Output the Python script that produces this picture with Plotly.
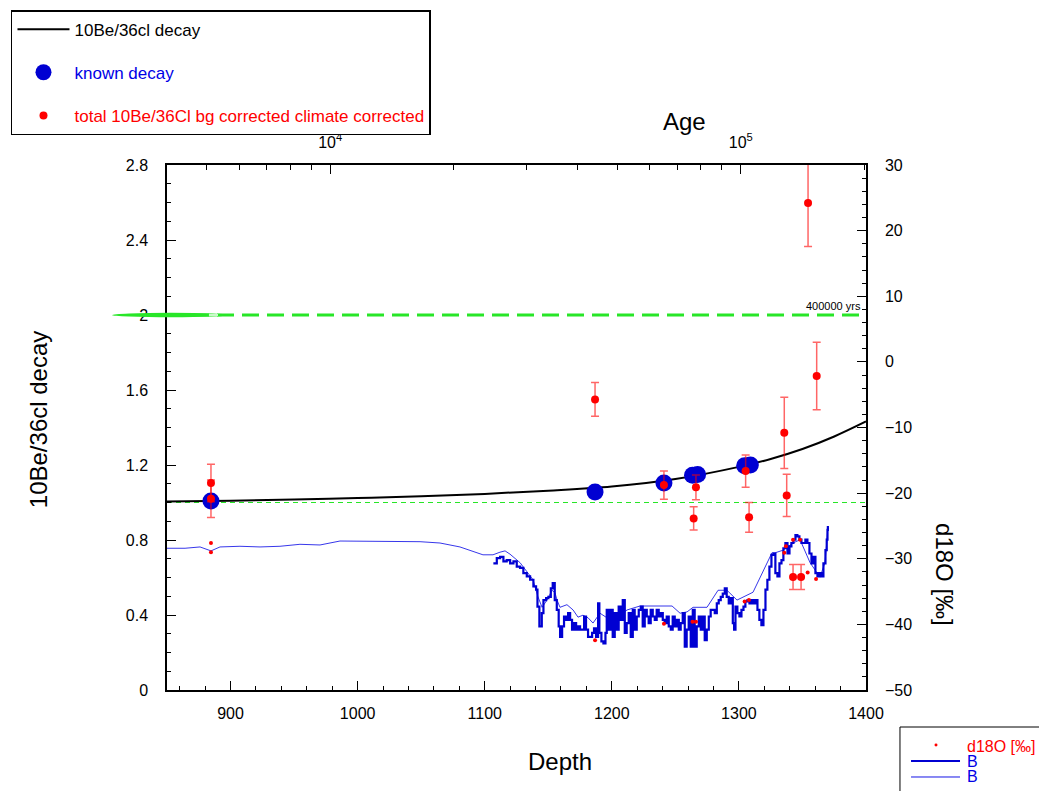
import plotly.graph_objects as go

# ---------------- data ----------------
# 10Be/36Cl decay curve (depth, ratio)
curve_depth = [850, 900, 950, 1000, 1050, 1100, 1150, 1200, 1250, 1300, 1325, 1350, 1375, 1400]
curve_ratio = [1.006, 1.010, 1.016, 1.024, 1.033, 1.046, 1.063, 1.085, 1.125, 1.190, 1.232, 1.285, 1.352, 1.432]

# known decay (big blue dots)
known_depth = [884.6, 1186.8, 1241.0, 1263.5, 1267.5, 1304.5, 1309.0]
known_ratio = [1.008, 1.056, 1.104, 1.145, 1.149, 1.196, 1.200]

# total 10Be/36Cl bg corrected climate corrected (red points with errors)
tot_depth = [884.6, 884.6, 1186.8, 1241.0, 1266.2, 1264.4, 1305.3, 1308.0, 1335.7, 1337.6,
             1342.6, 1348.9, 1354.4, 1361.2]
tot_ratio = [1.104, 1.020, 1.550, 1.093, 1.081, 0.915, 1.168, 0.921, 1.372, 1.038,
             0.603, 0.603, 2.597, 1.675]
tot_err = [0.10, 0.10, 0.09, 0.075, 0.066, 0.062, 0.086, 0.079, 0.19, 0.113,
           0.067, 0.067, 0.232, 0.18]

# reference levels (green)
level_400k = 2.0
level_now = 1.0
x_span = [850, 1400]

# d18O sample points (right axis)
d18o_depth = [884.6, 884.6, 1186.8, 1241.0, 1263.5, 1266.2, 1304.5, 1307.9, 1335.7, 1337.0,
              1342.6, 1348.1, 1354.1, 1360.7]
d18o_val = [-27.6, -29.0, -42.4, -39.9, -39.6, -39.6, -36.5, -36.3, -29.1, -28.1,
            -27.1, -27.1, -32.1, -33.1]

# B (thick, high resolution) d18O record
b1_depth = [1106.8, 1109.5, 1112.1, 1114.7, 1117.3, 1120.0, 1122.6, 1125.2, 1127.8, 1130.4,
            1133.1, 1135.7, 1138.3, 1140.4, 1141.5, 1143.0, 1144.9, 1146.2, 1148.3, 1150.1,
            1152.0, 1153.5, 1155.1, 1156.7, 1158.2, 1159.3, 1160.9, 1162.4, 1164.0, 1165.6,
            1167.2, 1168.7, 1170.3, 1171.9, 1173.5, 1175.0, 1176.6, 1178.2, 1179.7, 1181.3,
            1182.9, 1184.5, 1186.0, 1187.6, 1189.2, 1190.2, 1191.8, 1193.4, 1195.0, 1196.0,
            1197.6, 1199.2, 1200.7, 1202.3, 1203.9, 1205.4, 1207.0, 1208.6, 1210.2, 1211.7,
            1213.3, 1214.9, 1216.5, 1218.0, 1219.6, 1221.2, 1222.8, 1224.3, 1225.9, 1227.5,
            1229.0, 1230.6, 1232.2, 1233.8, 1235.3, 1236.9, 1238.5, 1240.1, 1241.6, 1243.2,
            1244.8, 1246.4, 1247.9, 1249.5, 1251.1, 1252.7, 1254.2, 1255.8, 1257.4, 1258.9,
            1260.5, 1262.1, 1263.7, 1265.2, 1266.8, 1268.4, 1270.0, 1271.5, 1273.1, 1274.7,
            1276.3, 1277.8, 1279.4, 1281.0, 1282.6, 1284.1, 1285.7, 1287.3, 1288.9, 1290.4,
            1292.0, 1293.6, 1295.2, 1296.2, 1297.3, 1298.8, 1300.4, 1302.0, 1303.6, 1305.1,
            1306.7, 1308.3, 1309.8, 1311.4, 1313.0, 1314.6, 1316.1, 1317.7, 1319.3, 1320.9,
            1322.4, 1324.0, 1325.6, 1327.2, 1328.7, 1330.3, 1331.9, 1333.5, 1335.0, 1336.6,
            1338.2, 1339.8, 1341.3, 1342.9, 1344.5, 1346.0, 1347.6, 1349.2, 1350.8, 1352.3,
            1353.9, 1355.5, 1357.1, 1358.6, 1360.2, 1361.8, 1363.4, 1364.9, 1366.5, 1368.1,
            1369.1, 1369.7, 1370.0]
b1_val = [-30.7, -29.9, -29.7, -30.4, -30.2, -30.7, -30.4, -31.2, -31.4, -32.2,
          -32.7, -33.2, -34.2, -34.7, -37.3, -40.3, -38.3, -36.3, -36.0, -35.8,
          -34.5, -33.7, -36.3, -37.8, -40.3, -41.9, -40.3, -38.8, -39.3, -38.3,
          -39.3, -40.8, -39.8, -40.8, -40.3, -40.8, -40.8, -38.8, -40.8, -41.9,
          -41.9, -41.3, -40.6, -41.9, -36.8, -41.3, -42.6, -42.9, -41.3, -37.8,
          -40.8, -37.8, -41.9, -38.3, -40.8, -37.3, -39.3, -36.3, -41.3, -39.8,
          -38.3, -41.9, -37.8, -40.8, -38.8, -37.8, -37.3, -40.3, -37.8, -38.8,
          -39.8, -37.8, -38.8, -39.3, -37.8, -38.8, -38.3, -39.3, -39.8, -38.8,
          -40.3, -40.8, -38.8, -40.3, -39.3, -40.8, -39.8, -38.3, -43.4, -40.8,
          -38.8, -43.4, -37.8, -43.4, -40.3, -38.8, -40.8, -38.8, -42.4, -40.8,
          -38.8, -37.8, -37.8, -38.3, -36.8, -36.3, -35.8, -35.3, -34.5, -35.8,
          -36.8, -36.0, -39.8, -40.8, -37.3, -38.3, -38.8, -37.8, -37.3, -36.5,
          -36.3, -36.8, -36.3, -36.8, -36.3, -37.8, -39.3, -40.1, -37.8, -34.7,
          -33.2, -31.2, -29.4, -29.2, -32.2, -32.7, -30.7, -30.2, -28.4, -27.6,
          -29.2, -28.1, -27.6, -27.1, -26.4, -26.6, -27.1, -27.6, -27.6, -27.1,
          -27.6, -29.2, -30.7, -29.7, -32.2, -32.7, -32.2, -32.7, -30.7, -28.7,
          -27.1, -25.6, -25.0]

# B (thin, low resolution) d18O record
b2_depth = [850.0, 864.2, 876.0, 884.6, 891.7, 907.4, 923.2, 938.9, 954.6, 970.4,
            986.1, 1001.9, 1017.6, 1033.3, 1049.1, 1064.8, 1080.5, 1098.6, 1106.5, 1112.0,
            1116.0, 1119.9, 1127.8, 1133.3, 1138.0, 1141.9, 1145.1, 1149.0, 1152.9, 1155.3,
            1156.9, 1159.2, 1164.7, 1169.5, 1173.4, 1177.3, 1181.3, 1185.2, 1190.7, 1196.2,
            1200.9, 1206.4, 1212.0, 1222.2, 1237.9, 1247.4, 1253.7, 1259.2, 1263.9, 1274.9,
            1283.6, 1290.6, 1298.5, 1311.1, 1326.0, 1328.4, 1334.7, 1342.6, 1348.1, 1356.0,
            1363.8, 1367.7, 1369.3, 1370.0]
b2_val = [-28.4, -28.4, -28.2, -28.8, -28.2, -28.1, -28.2, -28.1, -27.8, -27.9,
          -27.3, -27.3, -27.4, -27.4, -27.4, -27.6, -28.2, -29.4, -29.4, -29.0,
          -28.8, -29.3, -30.6, -32.0, -33.2, -35.8, -37.4, -36.3, -34.8, -35.2,
          -36.3, -37.4, -37.0, -37.8, -38.9, -38.6, -39.0, -39.8, -38.3, -39.0,
          -38.3, -38.6, -37.8, -37.2, -37.2, -37.2, -38.3, -38.1, -37.4, -37.4,
          -34.8, -34.8, -36.3, -35.1, -29.1, -29.1, -28.7, -27.6, -27.1, -30.6,
          -32.8, -30.6, -27.1, -25.2]

# top axis (Age, log)
age_range = [4003, 201900]
age_major = [1e4, 1e5]
age_major_text = ["10<sup>4</sup>", "10<sup>5</sup>"]
age_minor = [5000, 6000, 7000, 8000, 9000, 20000, 30000, 40000, 50000, 60000,
             70000, 80000, 90000, 200000]

# ---------------- figure ----------------
FONT = "Liberation Sans, Arial, Helvetica, sans-serif"
GREEN = "rgb(40,230,40)"
BLUE = "rgb(0,0,210)"
RED = "rgb(255,0,0)"

fig = go.Figure()

# green reference levels
fig.add_trace(go.Scatter(x=x_span, y=[level_400k, level_400k], mode="lines",
                         line=dict(color=GREEN, width=3, dash="17px,8px"),
                         showlegend=False, hoverinfo="skip"))
fig.add_trace(go.Scatter(x=x_span, y=[level_now, level_now], mode="lines",
                         line=dict(color=GREEN, width=1.2, dash="5px,4px"),
                         showlegend=False, hoverinfo="skip"))

# anchor traces for the top Age axis (major and minor tick layers, no visible marks)
fig.add_trace(go.Scatter(x=age_range, y=[None, None], xaxis="x2", mode="lines",
                         showlegend=False, hoverinfo="skip"))
fig.add_trace(go.Scatter(x=age_range, y=[None, None], xaxis="x3", mode="lines",
                         showlegend=False, hoverinfo="skip"))

# d18O records (right axis)
fig.add_trace(go.Scatter(x=b2_depth, y=b2_val, mode="lines", yaxis="y2",
                         line=dict(color="rgba(20,20,230,0.85)", width=1),
                         name="B", showlegend=False))
fig.add_trace(go.Scatter(x=b1_depth, y=b1_val, mode="lines", yaxis="y2",
                         line=dict(color=BLUE, width=2.2, shape="hv"),
                         name="B", showlegend=False))
fig.add_trace(go.Scatter(x=d18o_depth, y=d18o_val, mode="markers", yaxis="y2",
                         marker=dict(color=RED, size=4),
                         name="d18O [‰]", showlegend=False))

# decay curve
fig.add_trace(go.Scatter(x=curve_depth, y=curve_ratio, mode="lines",
                         line=dict(color="black", width=2, shape="spline"),
                         name="10Be/36cl decay", legendgroup="g1", legendrank=1))
# known decay
fig.add_trace(go.Scatter(x=known_depth, y=known_ratio, mode="markers",
                         marker=dict(color=BLUE, size=17),
                         name='<span style="color:rgb(0,0,230)">known decay</span>',
                         legendgroup="g2", legendrank=2))
# total corrected
fig.add_trace(go.Scatter(x=tot_depth, y=tot_ratio, mode="markers",
                         marker=dict(color=RED, size=8),
                         error_y=dict(type="data", array=tot_err, visible=True,
                                      color="rgba(255,0,0,0.6)", thickness=1.5, width=4),
                         name='<span style="color:red">total 10Be/36Cl bg corrected climate corrected</span>',
                         legendgroup="g3", legendrank=3))

# axis titles and labels
TF = dict(size=24, family=FONT, color="black")
ann = [
    dict(text="Age", x=0.741, y=1.082, xref="paper", yref="paper", showarrow=False,
         xanchor="center", yanchor="middle", font=TF),
    dict(text="Depth", x=0.562, y=-0.137, xref="paper", yref="paper", showarrow=False,
         xanchor="center", yanchor="middle", font=TF),
    dict(text="10Be/36cl decay", x=-0.1845, y=0.514, xref="paper", yref="paper",
         xanchor="center", yanchor="middle", showarrow=False, textangle=-90, font=TF),
    dict(text="d18O [‰]", x=1.113, y=0.219, xref="paper", yref="paper",
         xanchor="center", yanchor="middle", showarrow=False, textangle=90, font=TF),
    dict(text="400000 yrs", x=1400, y=level_400k, xref="x", yref="y", xanchor="right",
         yanchor="bottom", xshift=-3, yshift=1, showarrow=False,
         font=dict(size=11, family=FONT, color="black")),
    # bottom-right key
    dict(text='d18O [‰]', x=1.1416, y=-0.1067, xref="paper", yref="paper", xanchor="left",
         yanchor="middle", showarrow=False, font=dict(size=16, family=FONT, color="red")),
    dict(text='B', x=1.1416, y=-0.1371, xref="paper", yref="paper", xanchor="left",
         yanchor="middle", showarrow=False, font=dict(size=16, family=FONT, color="rgb(0,0,230)")),
    dict(text='B', x=1.1416, y=-0.1657, xref="paper", yref="paper", xanchor="left",
         yanchor="middle", showarrow=False, font=dict(size=16, family=FONT, color="rgb(0,0,230)")),
]

shapes = [
    # tapered green mark at the 400000 yrs level
    dict(type="circle", xref="paper", yref="y", x0=-0.0787, x1=0.090, y0=1.988, y1=2.012,
         fillcolor=GREEN, line=dict(width=0), layer="above"),
    dict(type="line", xref="paper", yref="y", x0=0.060, x1=0.073, y0=2.0, y1=2.0,
         line=dict(color="white", width=1.5), layer="above"),
    # bottom-right key box and symbols
    dict(type="rect", xref="paper", yref="paper", x0=1.0486, x1=1.26, y0=-0.0705, y1=-0.215,
         line=dict(color="black", width=1), fillcolor="white", layer="above"),
    dict(type="circle", xref="paper", yref="paper", x0=1.0980, x1=1.1023, y0=-0.1077, y1=-0.1020,
         fillcolor="red", line=dict(width=0), layer="above"),
    dict(type="line", xref="paper", yref="paper", x0=1.0644, x1=1.1345, y0=-0.1352, y1=-0.1352,
         line=dict(color=BLUE, width=2), layer="above"),
    dict(type="line", xref="paper", yref="paper", x0=1.0644, x1=1.1345, y0=-0.1657, y1=-0.1657,
         line=dict(color="rgb(20,20,230)", width=1), layer="above"),
]

axis_common = dict(showline=True, linecolor="black", linewidth=1.5, ticks="inside",
                   tickcolor="black", tickwidth=1, showgrid=False, zeroline=False,
                   tickfont=dict(size=16, family=FONT, color="black"))

fig.update_layout(
    width=1039, height=791,
    margin=dict(l=167, r=173, t=165, b=101, autoexpand=False),
    paper_bgcolor="white", plot_bgcolor="white",
    font=dict(family=FONT, color="black"),
    annotations=ann, shapes=shapes,
    xaxis=dict(range=x_span, dtick=100, ticklen=9, ticklabelstandoff=8,
               minor=dict(dtick=20, ticks="inside", ticklen=4, tickcolor="black"),
               **axis_common),
    xaxis2=dict(type="log", overlaying="x", side="top", anchor="y",
                range=[3.6024, 5.3051], tickmode="array", tickvals=age_major,
                ticktext=age_major_text, ticklen=9, ticklabelstandoff=9,
                **axis_common),
    xaxis3=dict(type="log", overlaying="x", side="top", anchor="y",
                range=[3.6024, 5.3051], tickmode="array", tickvals=age_minor,
                ticks="inside", ticklen=5, tickwidth=1, tickcolor="black",
                showticklabels=False, showline=False, showgrid=False, zeroline=False),
    yaxis=dict(range=[0, 2.8], dtick=0.4, ticklen=9, ticklabelstandoff=14,
               minor=dict(dtick=0.1, ticks="inside", ticklen=4, tickcolor="black"),
               **axis_common),
    yaxis2=dict(range=[-50, 30], dtick=10, overlaying="y", side="right", anchor="x",
                ticklen=9, ticklabelstandoff=14,
                minor=dict(dtick=2, ticks="inside", ticklen=4, tickcolor="black"),
                **axis_common),
    legend=dict(x=-0.2232, y=1.295, xanchor="left", yanchor="top", xref="paper", yref="paper",
                bordercolor="black", borderwidth=1.5, bgcolor="white",
                font=dict(size=17, family=FONT, color="black"),
                tracegroupgap=18, traceorder="grouped", itemwidth=52),
)

fig.write_html("out.html")
